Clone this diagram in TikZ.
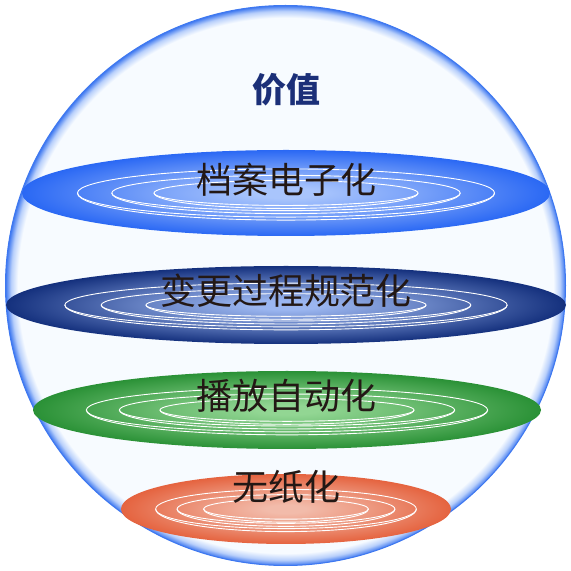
\documentclass[tikz,border=0pt]{standalone}
\usepackage{fontspec}
\newfontfamily\cjk{Noto Sans CJK SC}
\usetikzlibrary{positioning}
\definecolor{spherefill}{HTML}{F7FBFF}
\definecolor{rimlight}{HTML}{B9D0FB}
\definecolor{rimblue}{HTML}{3E78F0}
\definecolor{textdark}{HTML}{231815}
\definecolor{titleblue}{HTML}{1B2F78}
\definecolor{blueC}{HTML}{A9C5FC}
\definecolor{blueE}{HTML}{2A68F4}
\definecolor{navyC}{HTML}{9BB6F0}
\definecolor{navyE}{HTML}{14307D}
\definecolor{greenC}{HTML}{92D693}
\definecolor{greenE}{HTML}{2A9136}
\definecolor{orangeC}{HTML}{F2BBAA}
\definecolor{orangeE}{HTML}{E5633F}
\pgfdeclareradialshading{sphere}{\pgfpoint{0bp}{0bp}}{color(0bp)=(spherefill); color(23.9bp)=(spherefill); color(24.5bp)=(rimlight); color(25bp)=(rimblue); color(50bp)=(rimblue)}
\newcommand\discshade[3]{\pgfdeclareradialshading{#1}{\pgfpoint{0bp}{0bp}}{color(0bp)=(#2); color(3bp)=(#2); color(13bp)=(#2!60!#3); color(25bp)=(#3); color(50bp)=(#3)}}
\discshade{shblue}{blueC}{blueE}
\discshade{shnavy}{navyC}{navyE}
\discshade{shgreen}{greenC}{greenE}
\discshade{shorange}{orangeC}{orangeE}
\tikzstyle{ring}=[white,line width=.9pt]
\tikzstyle{disctext}=[text=textdark,font=\cjk\fontsize{36}{40}\selectfont]
\tikzstyle{titletext}=[text=titleblue,font=\cjk\bfseries\fontsize{34}{38}\selectfont]
% disc: centre x, centre y, x radius, y radius, shading
\newcommand\disc[5]{%
  \shade[shading=#5] (#1,#2) ellipse [x radius=#3,y radius=#4];
  \foreach \fx/\fy in {.79/.56,.66/.41,.5/.29}{
    \draw[ring] (#1,#2) ellipse [x radius=\fx*#3,y radius=\fy*#4];
    \draw[ring] (#1-\fx*#3,#2) arc [start angle=180,end angle=360,x radius=\fx*#3,y radius=\fy*#4+3];
  }}

\begin{document}
\begin{tikzpicture}[x=1pt,y=1pt]
  \useasboundingbox (0,0) rectangle (571,571);
  % sphere
  \shade[shading=sphere] (285.5,285.5) circle [radius=280];
  \draw[rimblue,line width=1pt] (285.5,285.5) circle [radius=280];
  % discs
  \disc{286}{378}{264}{43}{shblue}
  \disc{286}{266}{280}{39}{shnavy}
  \disc{287}{161}{254}{39}{shgreen}
  \disc{286}{62}{165}{35}{shorange}
  % texts
  \node[titletext] (value) at (286,481) {价值};
  \node[disctext] (archive) at (286,391) {档案电子化};
  \node[disctext] (change) at (286,280) {变更过程规范化};
  \node[disctext] (play) at (286,175) {播放自动化};
  \node[disctext] (paper) at (286,84) {无纸化};
\end{tikzpicture}
\end{document}
